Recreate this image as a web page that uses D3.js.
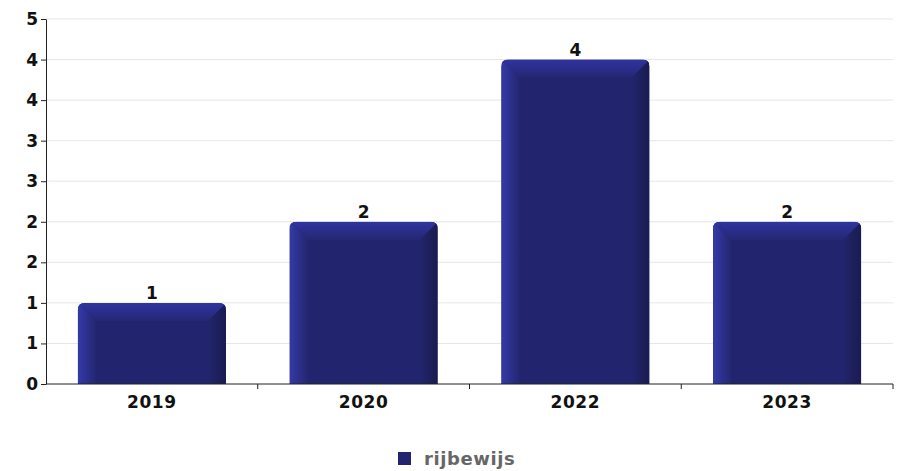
<!DOCTYPE html>
<html><head><meta charset="utf-8">
<script src="https://cdn.jsdelivr.net/npm/d3@7"></script>
<style>body{margin:0;background:#fff}svg{display:block}text{font-family:"DejaVu Sans",sans-serif;font-weight:bold}</style>
</head><body><svg id="c" width="903" height="471"></svg>
<script>
const categories = ["2019","2020","2022","2023"];
const values = [1,2,4,2];
const seriesName = "rijbewijs";
const yTicks = [0,0.5,1,1.5,2,2.5,3,3.5,4,4.5];

(function(){
const svg = d3.select("#c");
const pL = 46, pR = 893, pT = 19, pB = 384;
const fs = 17;
const x = d3.scaleBand().domain(categories).range([pL, pR]).paddingInner(0.3).paddingOuter(0.15);
const y = d3.scaleLinear().domain([0, 4.5]).range([pB, pT]);

// grid
svg.append("g").selectAll("line").data(yTicks.slice(1)).join("line")
  .attr("x1", pL).attr("x2", pR)
  .attr("y1", d => y(d)).attr("y2", d => y(d))
  .attr("stroke", "#e6e6e6").attr("stroke-width", 1);

const defs = svg.append("defs");
function lin(id, x2, y2, stops){
  const g = defs.append("linearGradient").attr("id", id).attr("x1",0).attr("y1",0).attr("x2",x2).attr("y2",y2);
  stops.forEach(s => g.append("stop").attr("offset", s[0]).attr("stop-color", s[1]));
}
lin("gl", 1, 0, [[0,"#3539a9"],[1,"#24276f"]]);
lin("gr", 1, 0, [[0,"#22256c"],[1,"#191b50"]]);
lin("gt", 0, 1, [[0,"#3034a0"],[1,"#242772"]]);

const b = 18, r = 7;
const bars = svg.append("g");
categories.forEach((c, i) => {
  const x0 = x(c), w = x.bandwidth(), y0 = y(values[i]), y1 = y(0);
  const cp = defs.append("clipPath").attr("id", "cp"+i);
  cp.append("path").attr("d",
    `M${x0},${y1} L${x0},${y0+r} Q${x0},${y0} ${x0+r},${y0} L${x0+w-r},${y0} Q${x0+w},${y0} ${x0+w},${y0+r} L${x0+w},${y1} Z`);
  const g = bars.append("g").attr("clip-path", `url(#cp${i})`);
  g.append("rect").attr("x", x0).attr("y", y0).attr("width", w).attr("height", y1 - y0).attr("fill", "#22256e");
  g.append("polygon").attr("points", `${x0},${y0} ${x0+b},${y0+b} ${x0+b},${y1} ${x0},${y1}`).attr("fill", "url(#gl)");
  g.append("polygon").attr("points", `${x0+w},${y0} ${x0+w-b},${y0+b} ${x0+w-b},${y1} ${x0+w},${y1}`).attr("fill", "url(#gr)");
  g.append("polygon").attr("points", `${x0},${y0} ${x0+w},${y0} ${x0+w-b},${y0+b} ${x0+b},${y0+b}`).attr("fill", "url(#gt)");
  svg.append("text").attr("x", x0 + w/2).attr("y", y0 - 4).attr("text-anchor", "middle")
    .attr("font-size", fs).attr("fill", "#111").text(values[i]);
});

// y axis
const yAxis = svg.append("g").attr("transform", `translate(${pL},0)`)
  .call(d3.axisLeft(y).tickValues(yTicks).tickSize(5).tickSizeOuter(0).tickFormat(d => Math.round(d)));
yAxis.select(".domain").attr("stroke", "#222");
yAxis.selectAll(".tick line").attr("stroke", "#222");
yAxis.selectAll("text").attr("font-size", fs).attr("fill", "#111").attr("font-family", "DejaVu Sans").attr("font-weight", "bold").attr("x", -8);

// x axis
const xa = svg.append("g").attr("transform", `translate(0,${pB})`);
xa.append("line").attr("x1", pL).attr("x2", pR).attr("stroke", "#222");
const bounds = categories.map((c, i) => pL + (pR-pL)/categories.length*(i+1));
xa.selectAll("line.t").data(bounds).join("line").attr("class","t")
  .attr("x1", d => d).attr("x2", d => d).attr("y1", 0).attr("y2", 5).attr("stroke", "#222");
xa.selectAll("text").data(categories).join("text")
  .attr("x", d => x(d) + x.bandwidth()/2).attr("y", 24).attr("text-anchor", "middle")
  .attr("font-size", fs).attr("letter-spacing", 0.6).attr("fill", "#111").text(d => d);

// legend
svg.append("rect").attr("x", 398).attr("y", 452).attr("width", 13).attr("height", 13).attr("fill", "#22256e");
svg.append("text").attr("x", 424).attr("y", 465).attr("font-size", 18).attr("letter-spacing", 0.6).attr("fill", "#666").text(seriesName);
})();
</script></body></html>
